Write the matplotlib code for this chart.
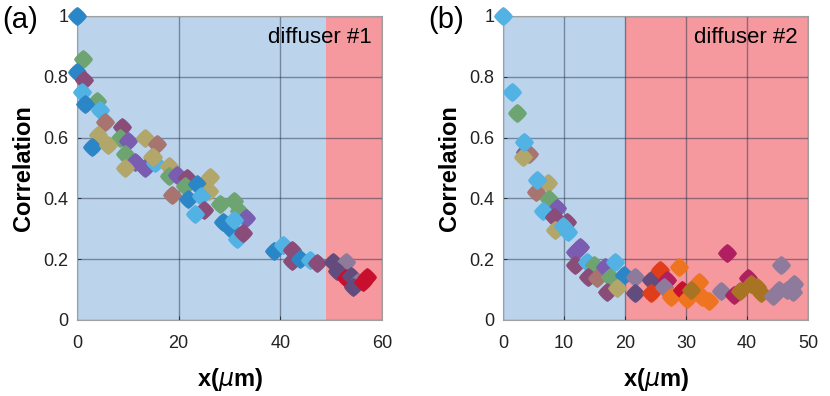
import matplotlib.pyplot as plt
import numpy as np
from matplotlib.path import Path

plt.rcParams["font.family"] = ["Liberation Sans", "DejaVu Sans"]

# colour names used in the data lists
palette = {
    "dblue": "#2B86C8",
    "lblue": "#52B2E4",
    "maroon": "#8A4C78",
    "olive": "#B2A66A",
    "green": "#6EA472",
    "rosy": "#A87470",
    "purple": "#7A5CB0",
    "dpurple": "#624C7E",
    "gpurple": "#8E7A9A",
    "red": "#C8102E",
    "redor": "#E03E1A",
    "orange": "#EE7420",
    "magenta": "#B02060",
    "gold": "#A87424",
}

# panel (a): diffuser #1
a_x = [0, 1.2, 0, 1.4, 0.9, 3.9, 1.6, 4.5, 5.5, 8.8, 4.2, 2.9, 8.5, 10.0, 6.1,
       13.4, 15.7, 9.5, 14.7, 11.4, 9.5, 13.4, 15.4, 15.0, 18.0, 18.0, 19.7, 21.6,
       26.2, 21.3, 23.6, 25.9, 18.7, 21.9, 24.3, 24.9, 23.3, 28.2, 30.8, 31.8, 33.2,
       28.8, 30.2, 30.8, 31.5, 32.6, 38.8, 40.5, 42.2, 42.2, 43.8, 45.8, 47.3,
       50.4, 53.0, 51.2, 52.9, 53.9, 55.2, 54.2, 57.0, 56.3]
a_y = [1.0, 0.86, 0.815, 0.79, 0.75, 0.72, 0.71, 0.69, 0.65, 0.636, 0.61, 0.57, 0.60,
       0.59, 0.576, 0.60, 0.58, 0.545, 0.537, 0.52, 0.50, 0.50, 0.515, 0.537, 0.505,
       0.475, 0.477, 0.466, 0.47, 0.44, 0.447, 0.425, 0.412, 0.398, 0.408, 0.362,
       0.348, 0.38, 0.392, 0.358, 0.335, 0.322, 0.30, 0.33, 0.268, 0.286, 0.228,
       0.248, 0.23, 0.195, 0.202, 0.198, 0.187, 0.19, 0.19, 0.16, 0.137, 0.145,
       0.126, 0.11, 0.142, 0.125]
a_c = ["dblue", "green", "dblue", "maroon", "lblue", "green", "dblue", "lblue", "rosy",
       "maroon", "olive", "dblue", "green", "purple", "olive", "olive", "rosy", "green",
       "olive", "purple", "olive", "purple", "lblue", "olive", "olive", "green", "purple",
       "maroon", "olive", "green", "dblue", "olive", "rosy", "dblue", "lblue", "maroon",
       "lblue", "green", "green", "green", "purple", "dblue", "dblue", "lblue", "lblue",
       "maroon", "dblue", "lblue", "maroon", "maroon", "dblue", "lblue", "maroon",
       "dpurple", "gpurple", "dpurple", "red", "dpurple", "gpurple", "dpurple", "red", "red"]

# panel (b): diffuser #2
b_x = [0, 1.5, 2.25, 3.6, 4.2, 3.2, 3.5, 7.3, 5.4, 5.5, 7.5, 8.9, 6.5, 8.3, 10.5,
       8.6, 9.9, 10.6, 12.7, 11.8, 11.8, 13.8, 14.9, 14.0, 15.4, 16.8, 17.6, 18.4,
       19.8, 17.1, 18.7, 21.7, 21.7, 24.2, 24.2, 25.7, 26.9, 26.4, 28.9, 27.5,
       29.4, 32.1, 30.2, 33.8, 32.7, 30.9, 35.7, 36.8, 37.9, 40.2, 38.9, 40.6,
       41.7, 42.3, 44.3, 45.3, 45.6, 46.6, 47.7, 47.5]
b_y = [1.0, 0.75, 0.68, 0.553, 0.546, 0.537, 0.587, 0.452, 0.42, 0.462, 0.397, 0.37,
       0.36, 0.34, 0.323, 0.296, 0.31, 0.29, 0.24, 0.225, 0.18, 0.19, 0.18, 0.142,
       0.137, 0.175, 0.142, 0.19, 0.148, 0.093, 0.104, 0.142, 0.088, 0.13, 0.09,
       0.164, 0.13, 0.107, 0.175, 0.077, 0.1, 0.126, 0.07, 0.063, 0.077, 0.1, 0.095,
       0.22, 0.082, 0.138, 0.095, 0.118, 0.11, 0.09, 0.08, 0.1, 0.18, 0.1, 0.12, 0.093]
b_c = ["lblue", "lblue", "green", "purple", "rosy", "olive", "lblue", "olive", "rosy",
       "lblue", "green", "purple", "lblue", "maroon", "maroon", "olive", "lblue", "lblue",
       "purple", "purple", "maroon", "lblue", "green", "maroon", "rosy", "purple", "green",
       "lblue", "dblue", "maroon", "olive", "gpurple", "dpurple", "dpurple", "redor",
       "redor", "magenta", "gpurple", "orange", "orange", "red", "orange", "orange",
       "orange", "orange", "gold", "gpurple", "magenta", "magenta", "magenta", "gold",
       "gold", "gold", "gold", "gpurple", "gpurple", "gpurple", "gpurple", "gpurple",
       "gpurple"]

panels = [
    dict(x=a_x, y=a_y, c=a_c, xmax=60, xticks=[0, 20, 40, 60], edge=49,
         tag="(a)", name="diffuser #1", left=77),
    dict(x=b_x, y=b_y, c=b_c, xmax=50, xticks=[0, 10, 20, 30, 40, 50], edge=20,
         tag="(b)", name="diffuser #2", left=503),
]

# bulged diamond marker (superellipse, slightly rounder than a plain diamond)
t = np.linspace(0, 2 * np.pi, 81)
ex = 1.2
mx = np.sign(np.cos(t)) * np.abs(np.cos(t)) ** (2 / ex)
my = np.sign(np.sin(t)) * np.abs(np.sin(t)) ** (2 / ex)
blob = Path(np.column_stack([mx, my]), closed=True)

W, H = 830, 396
fig = plt.figure(figsize=(W / 100, H / 100), dpi=100)

for p in panels:
    ax = fig.add_axes([p["left"] / W, (H - 320) / H, 305 / W, 304 / H])
    ax.set_xlim(0, p["xmax"])
    ax.set_ylim(0, 1)
    ax.axvspan(0, p["edge"], color="#BBD4EC", zorder=0, lw=0)
    ax.axvspan(p["edge"], p["xmax"], color="#F5999F", zorder=0, lw=0)
    ax.set_axisbelow(True)
    ax.grid(True, color="#1A2A40", alpha=0.45, lw=1)
    for xi, yi, ci in zip(p["x"], p["y"], p["c"]):
        ax.plot(xi, yi, marker=blob, ls="none", ms=13, color=palette[ci],
                mec=palette[ci], mew=0.5, zorder=3, clip_on=False)
    ax.set_xticks(p["xticks"])
    ax.set_yticks([0, 0.2, 0.4, 0.6, 0.8, 1])
    ax.set_yticklabels(["0", "0.2", "0.4", "0.6", "0.8", "1"])
    ax.tick_params(direction="in", length=3, width=0.6, labelsize=13,
                   colors="#222222", pad=6)
    ax.tick_params(axis="x", pad=11)
    for s in ax.spines.values():
        s.set_color("#A0A0A0")
        s.set_linewidth(0.8)
    ax.set_xlabel(r"x($\mu$m)", fontsize=17, fontweight="bold", labelpad=10)
    ax.set_ylabel("Correlation", fontsize=17, fontweight="bold", labelpad=6)
    ax.text(0.965, 0.93, p["name"], transform=ax.transAxes, ha="right", va="center",
            fontsize=16)
    fig.text((p["left"] - 77 + 2) / W, 1 - 20 / H, p["tag"], fontsize=21,
             ha="left", va="center")

fig.savefig("out.png", dpi=100)
